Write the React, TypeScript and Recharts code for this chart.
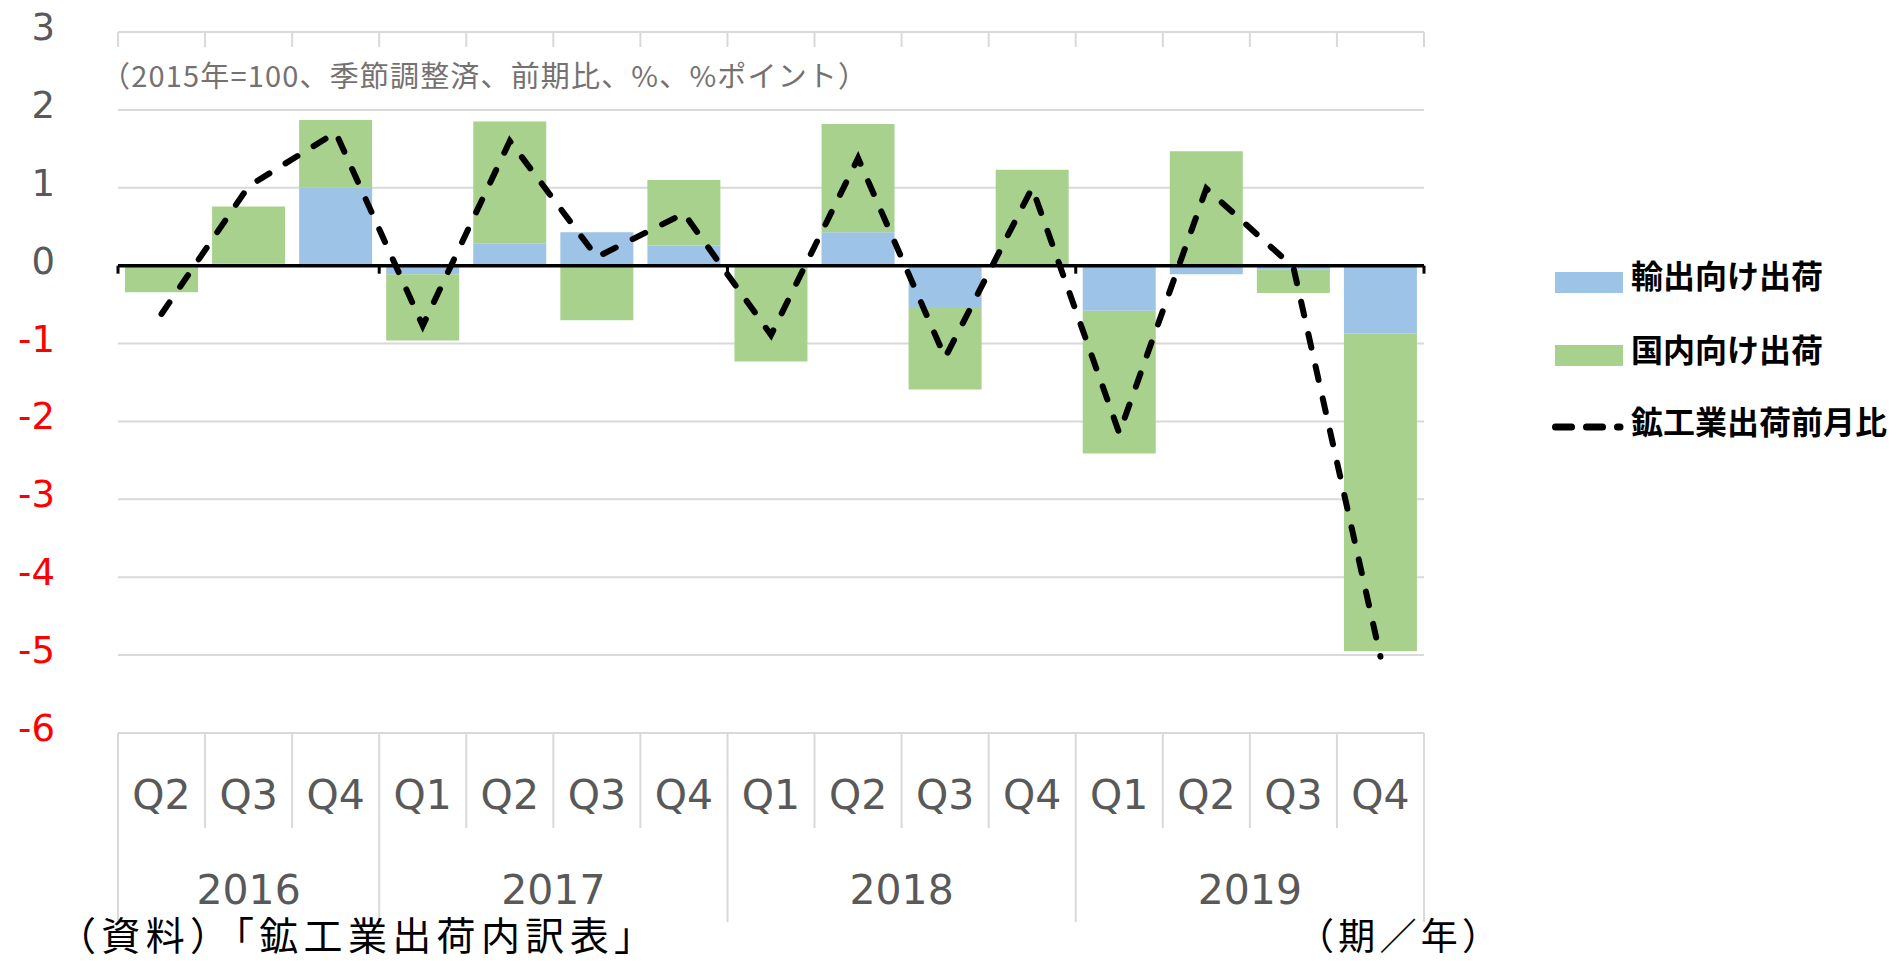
import { ComposedChart, Bar, Line, XAxis, YAxis, CartesianGrid, ReferenceLine } from 'recharts'

const quarters = ['Q2', 'Q3', 'Q4', 'Q1', 'Q2', 'Q3', 'Q4', 'Q1', 'Q2', 'Q3', 'Q4', 'Q1', 'Q2', 'Q3', 'Q4']
const years = ['2016', '2016', '2016', '2017', '2017', '2017', '2017', '2018', '2018', '2018', '2018', '2019', '2019', '2019', '2019']
// 輸出向け出荷 / 国内向け出荷 (寄与度, %pt)
const exportShip = [0, 0.03, 1.0, -0.11, 0.28, 0.43, 0.26, 0, 0.43, -0.53, 0, -0.58, -0.11, -0.05, -0.87]
const domesticShip = [-0.34, 0.73, 0.87, -0.85, 1.57, -0.7, 0.84, -1.23, 1.39, -1.06, 1.23, -1.83, 1.47, -0.3, -4.08]
// 鉱工業出荷前月比
const totalShip = [-0.62, 1.02, 1.71, -0.77, 1.6, 0.11, 0.67, -0.89, 1.38, -1.18, 1.0, -2.15, 0.99, -0.02, -5.02]
const yTicks = [3, 2, 1, 0, -1, -2, -3, -4, -5, -6]

const data = quarters.map((q, i) => ({
  id: years[i] + q,
  exp: exportShip[i],
  dom: domesticShip[i],
  total: totalShip[i],
}))

const W = 1904
const H = 961
const PLOT_L = 118
const PLOT_R = 1424
const PLOT_T = 32
const PLOT_B = 733
const Y_MAX = 3
const Y_MIN = -6
const ZERO_Y = PLOT_T + ((Y_MAX - 0) / (Y_MAX - Y_MIN)) * (PLOT_B - PLOT_T)

const GRID = '#d9d9d9'
const TEXT = '#595959'
const NUM_FONT = '"DejaVu Sans", Verdana, sans-serif'
const JP_FONT = '"Noto Sans CJK JP", "Noto Sans", sans-serif'

function YTick(props: any) {
  const { y, payload } = props
  const v = payload.value
  return (
    <text x={55} y={y + 8} textAnchor="end" fontSize={37} fontFamily={NUM_FONT} fill={v < 0 ? '#ff0000' : TEXT}>
      {v}
    </text>
  )
}

function CategoryTick(props: any) {
  const { x } = props
  const index = props.index ?? props.payload?.index ?? 0
  const n = quarters.length
  const band = (PLOT_R - PLOT_L) / n
  const left = x - band / 2
  const right = x + band / 2
  const firstOfYear = index === 0 || years[index] !== years[index - 1]
  const last = index === n - 1
  const count = years.filter((y) => y === years[index]).length

  return (
    <g>
      {/* ticks hanging under the top border */}
      <line x1={left} x2={left} y1={PLOT_T} y2={PLOT_T + 15} stroke={GRID} strokeWidth={2} />
      {last && <line x1={right} x2={right} y1={PLOT_T} y2={PLOT_T + 15} stroke={GRID} strokeWidth={2} />}

      {/* small marks on the zero line at year boundaries */}
      {firstOfYear && <line x1={left} x2={left} y1={ZERO_Y} y2={ZERO_Y + 8} stroke="#000" strokeWidth={3} />}
      {last && <line x1={right} x2={right} y1={ZERO_Y} y2={ZERO_Y + 8} stroke="#000" strokeWidth={3} />}

      {/* multi-level category separators */}
      <line x1={left} x2={left} y1={PLOT_B} y2={firstOfYear ? 922 : 828} stroke={GRID} strokeWidth={2} />
      {last && <line x1={right} x2={right} y1={PLOT_B} y2={922} stroke={GRID} strokeWidth={2} />}

      <text x={x} y={809} textAnchor="middle" fontSize={41} fontFamily={NUM_FONT} fill={TEXT}>
        {quarters[index]}
      </text>
      {firstOfYear && (
        <text x={left + (count * band) / 2} y={904} textAnchor="middle" fontSize={41} fontFamily={NUM_FONT} fill={TEXT}>
          {years[index]}
        </text>
      )}
    </g>
  )
}

export default function App() {
  return (
    <div style={{ position: 'relative', width: W, height: H, background: '#fff', overflow: 'hidden' }}>
      <style>{`body{margin:0}`}</style>
      <ComposedChart
        width={W}
        height={H}
        data={data}
        stackOffset="sign"
        margin={{ top: PLOT_T, right: W - PLOT_R, bottom: 0, left: 0 }}
      >
        <CartesianGrid vertical={false} stroke={GRID} strokeWidth={2} />
        <XAxis
          dataKey="id"
          height={H - PLOT_B}
          axisLine={false}
          tickLine={false}
          interval={0}
          tick={<CategoryTick />}
        />
        <YAxis
          width={PLOT_L}
          domain={[Y_MIN, Y_MAX]}
          ticks={yTicks}
          axisLine={false}
          tickLine={false}
          interval={0}
          tick={<YTick />}
        />
        <Bar dataKey="exp" stackId="a" fill="#9dc3e6" barSize={73} isAnimationActive={false} />
        <Bar dataKey="dom" stackId="a" fill="#a9d18e" barSize={73} isAnimationActive={false} />
        <ReferenceLine y={0} stroke="#000" strokeWidth={3.5} />
        <Line
          type="linear"
          dataKey="total"
          stroke="#000"
          strokeWidth={6}
          strokeDasharray="14 19"
          strokeLinecap="round"
          dot={false}
          activeDot={false}
          isAnimationActive={false}
        />
      </ComposedChart>

      <svg width={W} height={H} style={{ position: 'absolute', left: 0, top: 0, pointerEvents: 'none' }}>
        <text x={101} y={87} fontSize={29} fontFamily={JP_FONT} fill="#767171" textLength={766}>
          （2015年=100、季節調整済、前期比、%、%ポイント）
        </text>

        <rect x={1555} y={272} width={68} height={21} fill="#9dc3e6" />
        <text x={1631} y={288} fontSize={32} fontWeight="bold" fontFamily={JP_FONT} fill="#000">
          輸出向け出荷
        </text>
        <rect x={1555} y={345} width={68} height={21} fill="#a9d18e" />
        <text x={1631} y={362} fontSize={32} fontWeight="bold" fontFamily={JP_FONT} fill="#000">
          国内向け出荷
        </text>
        <line x1={1555.5} x2={1620} y1={427} y2={427} stroke="#000" strokeWidth={7} strokeDasharray="16 15" strokeLinecap="round" />
        <text x={1631} y={434} fontSize={32} fontWeight="bold" fontFamily={JP_FONT} fill="#000">
          鉱工業出荷前月比
        </text>

        <text x={57} y={950} fontSize={39} fontFamily={JP_FONT} fill="#000" textLength={596}>
          （資料）「鉱工業出荷内訳表」
        </text>
        <text x={1297} y={950} fontSize={37} fontFamily={JP_FONT} fill="#000" textLength={202}>
          （期／年）
        </text>
      </svg>
    </div>
  )
}
